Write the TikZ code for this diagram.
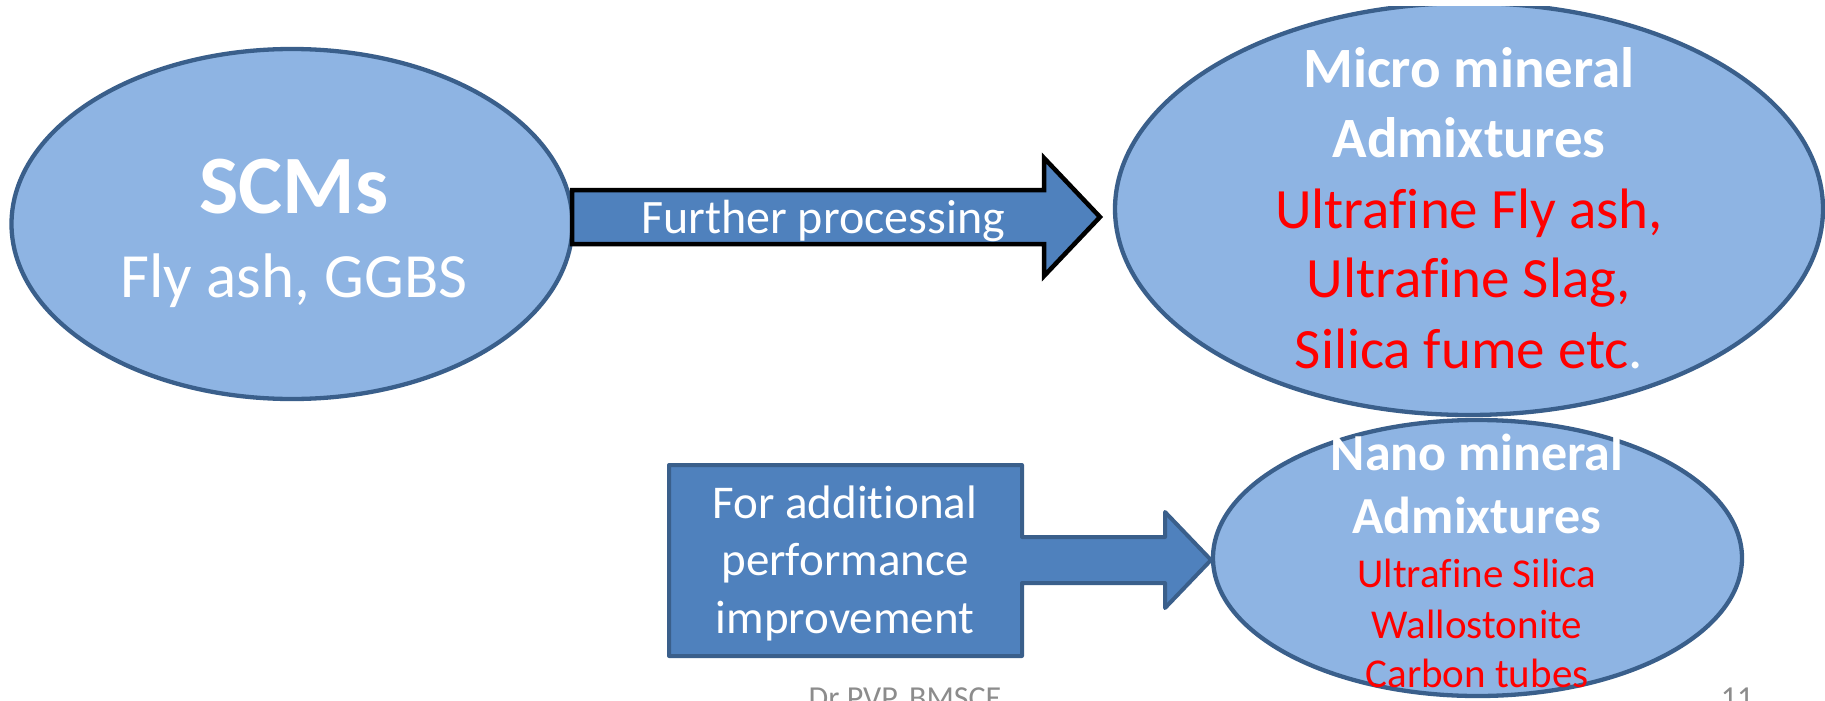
\documentclass[tikz,border=0pt]{standalone}
\usepackage{fontspec}
\setmainfont{Carlito}[Ligatures=NoCommon]
\usetikzlibrary{shapes.geometric}

\definecolor{bubblefill}{HTML}{8EB4E3}
\definecolor{rim}{HTML}{3A5F8B}
\definecolor{blockfill}{HTML}{4F81BD}
\definecolor{footgray}{HTML}{8C8C8C}
\definecolor{hotred}{HTML}{FF0000}

\newcommand\setsize[1]{\fontsize{#1}{#1}\selectfont}

\tikzset{
  bubble/.style={ellipse, draw=rim, fill=bubblefill, line width=4.3pt, inner sep=0pt},
  line/.style={anchor=base, inner sep=0pt, outer sep=0pt, text=white},
  redline/.style={line, text=hotred},
  blockarrow/.style={fill=blockfill, draw=black, line width=4.5pt, miter limit=20},
  callout/.style={fill=blockfill, draw=rim, line width=4pt, line join=round},
  foot/.style={anchor=base, inner sep=0pt, text=footgray}
}

\begin{document}
\begin{tikzpicture}[x=1pt,y=-1pt]
\useasboundingbox (0,0) rectangle (1825,701);
\begin{scope}
\clip (0,7) rectangle (1825,701);

% the three bubbles
\node[bubble, minimum width=561, minimum height=350] (scm)   at (292,224)  {};
\node[bubble, minimum width=708, minimum height=412] (micro) at (1469,209) {};
\node[bubble, minimum width=529, minimum height=276] (nano)  at (1477.5,558) {};

% block arrow: further processing
\draw[blockarrow] (572,190) -- (1044,190) -- (1044,158) -- (1100,217)
      -- (1044,276) -- (1044,244) -- (572,244) -- cycle;
\node[line] (proc) at (823,233) {\setsize{48}Further processing};

% box with arrow pointing to the nano bubble
\draw[callout] (669,465) -- (1022,465) -- (1022,537) -- (1165,537) -- (1165,512)
      -- (1211,560) -- (1165,608) -- (1165,583) -- (1022,583) -- (1022,656)
      -- (669,656) -- cycle;
\node[line] (add1) at (845,518) {\setsize{47}For additional};
\node[line] (add2) at (845,575) {\setsize{47}performance};
\node[line] (add3) at (845,633) {\setsize{47}improvement};

% SCM bubble text
\node[line] (scmtitle) at (294,213) {\setsize{83}\bfseries SCMs};
\node[line] (scmlist)  at (294,297) {\setsize{63}Fly ash, GGBS};

% micro bubble text
\node[line]    (mic1) at (1469,87)  {\setsize{57}\bfseries Micro mineral};
\node[line]    (mic2) at (1469,157) {\setsize{57}\bfseries Admixtures};
\node[redline] (mic3) at (1469,228) {\setsize{57}Ultrafine Fly ash,};
\node[redline] (mic4) at (1469,297) {\setsize{57}Ultrafine Slag,};
\node[redline] (mic5) at (1469,368) {\setsize{57}Silica fume etc\textcolor{white}{.}};

% nano bubble text
\node[line]    (nan1) at (1477,470) {\setsize{52}\bfseries Nano mineral};
\node[line]    (nan2) at (1477,533) {\setsize{52}\bfseries Admixtures};
\node[redline] (nan3) at (1477,587) {\setsize{41}Ultrafine Silica};
\node[redline] (nan4) at (1477,638) {\setsize{41}Wallostonite};
\node[redline] (nan5) at (1477,687) {\setsize{41}Carbon tubes};

% slide footer, running off the bottom edge
\node[foot] (author) at (905,708)  {\setsize{32}Dr PVP, BMSCE};
\node[foot] (page)   at (1737,708) {\setsize{32}11};
\end{scope}
\end{tikzpicture}
\end{document}
